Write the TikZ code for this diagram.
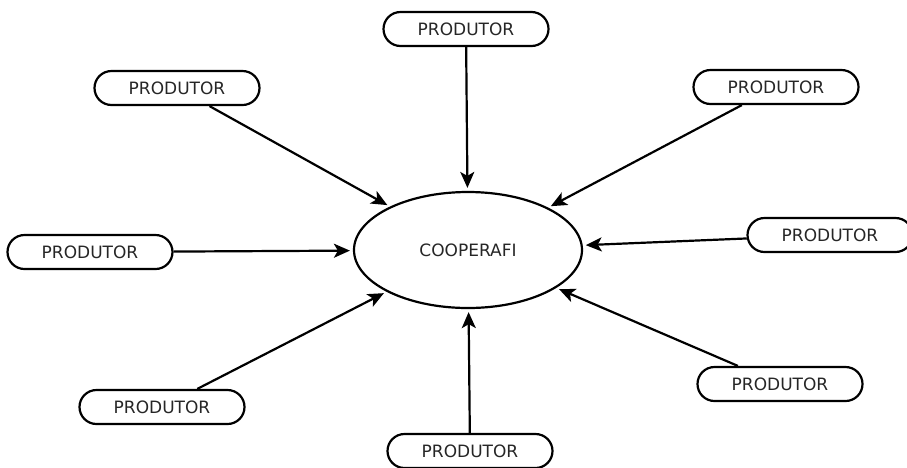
\documentclass[tikz,border=0pt]{standalone}
\usepackage{fontspec}
\setmainfont{DejaVu Sans}
\usetikzlibrary{shapes.misc,shapes.geometric,arrows.meta}
\begin{document}
\begin{tikzpicture}[x=1pt,y=-1pt,
  prod/.style={draw=black, line width=2.2pt, rounded rectangle, minimum width=165pt, minimum height=34pt, inner sep=0pt, text=black!85, font=\fontsize{17}{19}\selectfont},
  hub/.style={draw=black, line width=2.2pt, ellipse, minimum width=228pt, minimum height=116pt, inner sep=0pt, text=black!85, font=\fontsize{17}{19}\selectfont},
  conn/.style={line width=2.2pt, -{Stealth[length=16pt,width=14pt,inset=4pt]}, shorten >=3pt}]
\useasboundingbox (0,0) rectangle (907,467);
\node[hub] (coop) at (468,250) {COOPERAFI};
\node[prod] (top) at (466,29) {PRODUTOR};
\node[prod] (ul) at (177,88) {PRODUTOR};
\node[prod] (ur) at (776,87) {PRODUTOR};
\node[prod] (l) at (90,252) {PRODUTOR};
\node[prod] (r) at (830,235) {PRODUTOR};
\node[prod] (ll) at (162,407) {PRODUTOR};
\node[prod] (lr) at (780,384) {PRODUTOR};
\node[prod] (b) at (470,451) {PRODUTOR};
\draw[conn] (top) -- (coop);
\draw[conn] (ul) -- (coop);
\draw[conn] (ur) -- (coop);
\draw[conn] (l) -- (coop);
\draw[conn] (r) -- (coop);
\draw[conn] (ll) -- (coop);
\draw[conn] (lr) -- (coop);
\draw[conn] (b) -- (coop);
\end{tikzpicture}
\end{document}
